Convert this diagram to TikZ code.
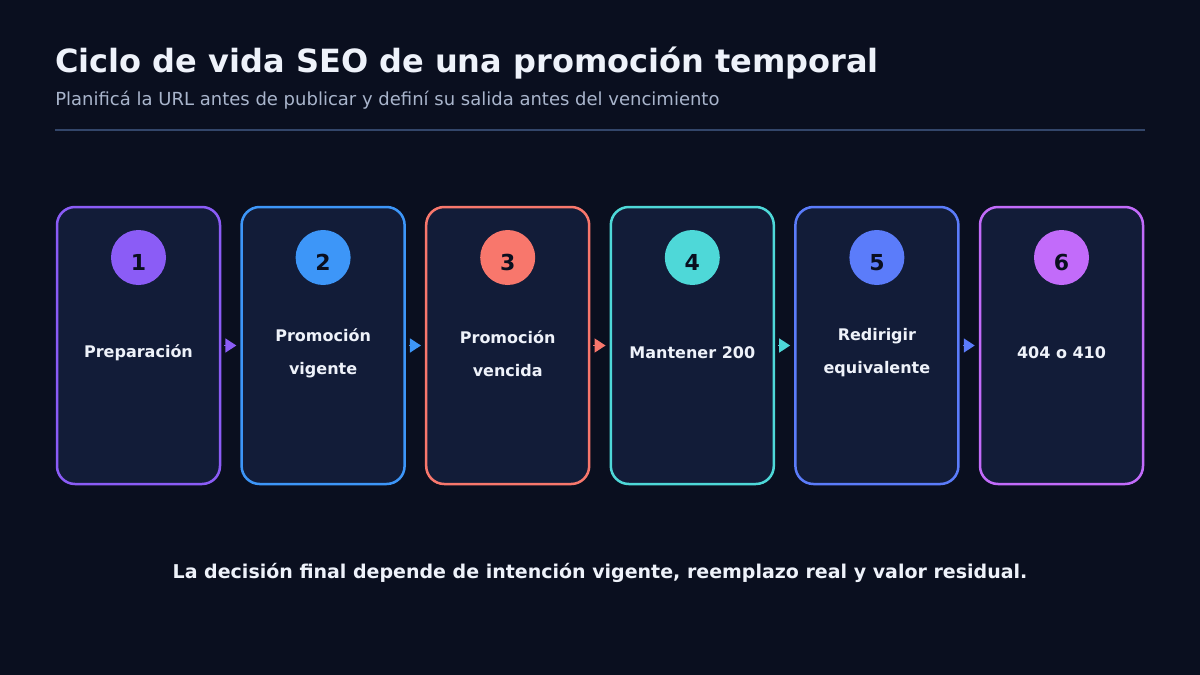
\documentclass[tikz,border=0pt]{standalone}
\usepackage{fontspec}
\setmainfont{DejaVu Sans}
\usetikzlibrary{arrows.meta}
\definecolor{bg}{HTML}{0A0F1F}
\definecolor{card}{HTML}{121C38}
\definecolor{ink}{HTML}{EEF2FA}
\definecolor{sub}{HTML}{A9B5CC}
\definecolor{rule}{HTML}{33466A}
\definecolor{c1}{HTML}{8B5CF6}
\definecolor{c2}{HTML}{3D96F8}
\definecolor{c3}{HTML}{F8776C}
\definecolor{c4}{HTML}{4ED8D8}
\definecolor{c5}{HTML}{5B7CFA}
\definecolor{c6}{HTML}{C26BFA}
\tikzset{> = {Triangle[length=11pt,width=14pt]}, every picture/.style={line width=0.7pt}}

\begin{document}
\begin{tikzpicture}[x=1pt,y=-1pt]
\fill[bg] (0,0) rectangle (1200,675);
\useasboundingbox (0,0) rectangle (1200,675);

\node[anchor=base west, inner sep=0pt, text=ink, font=\bfseries\fontsize{32}{38}\selectfont] (title) at (55,72) {Ciclo de vida SEO de una promoción temporal};
\node[anchor=base west, inner sep=0pt, text=sub, font=\fontsize{18}{22}\selectfont] (subtitle) at (55,105) {Planificá la URL antes de publicar y definí su salida antes del vencimiento};
\draw[rule, line width=2pt] (55,130) -- (1145,130);

\begin{scope}[every node/.style={rectangle,rounded corners=18pt,draw,line width=2.5pt,fill=card,minimum width=163pt,minimum height=277pt}]
\node[draw=c1] (P1) at (138.5,345.5) {};
\node[draw=c2] (P2) at (323.1,345.5) {};
\node[draw=c3] (P3) at (507.7,345.5) {};
\node[draw=c4] (P4) at (692.3,345.5) {};
\node[draw=c5] (P5) at (876.9,345.5) {};
\node[draw=c6] (P6) at (1061.5,345.5) {};
\end{scope}

\begin{scope}[every node/.style={circle,minimum size=55pt,inner sep=0pt}]
\node[fill=c1] (D1) at (138.5,257.5) {};
\node[fill=c2] (D2) at (323.1,257.5) {};
\node[fill=c3] (D3) at (507.7,257.5) {};
\node[fill=c4] (D4) at (692.3,257.5) {};
\node[fill=c5] (D5) at (876.9,257.5) {};
\node[fill=c6] (D6) at (1061.5,257.5) {};
\end{scope}

\begin{scope}[every node/.style={anchor=base,text=bg,font=\bfseries\fontsize{22}{26}\selectfont}]
\node (N1) at (138.5,270) {1};
\node (N2) at (323.1,270) {2};
\node (N3) at (507.7,270) {3};
\node (N4) at (692.3,270) {4};
\node (N5) at (876.9,270) {5};
\node (N6) at (1061.5,270) {6};
\end{scope}

\begin{scope}[every node/.style={align=center,text=ink,font=\bfseries\fontsize{16}{33}\selectfont}]
\node[anchor=base] (L1) at (138.5,357) {Preparación};
\node (L2) at (323.1,353) {Promoción\\vigente};
\node (L3) at (507.7,354) {Promoción\\vencida};
\node[anchor=base] (L4) at (692.3,358) {Mantener 200};
\node (L5) at (876.9,353) {Redirigir\\equivalente};
\node[anchor=base] (L6) at (1061.5,358) {404 o 410};
\end{scope}

\begin{scope}[every edge/.style={draw,line width=1.5pt,shorten <=3pt,shorten >=4pt}]
    \path [->] (P1) edge[c1] (P2);
    \path [->] (P2) edge[c2] (P3);
    \path [->] (P3) edge[c3] (P4);
    \path [->] (P4) edge[c4] (P5);
    \path [->] (P5) edge[c5] (P6);
\end{scope}

\node[anchor=base, inner sep=0pt, text=ink, font=\bfseries\fontsize{19}{23}\selectfont] (note) at (600,578) {La decisión final depende de intención vigente, reemplazo real y valor residual.};
\end{tikzpicture}
\end{document}
